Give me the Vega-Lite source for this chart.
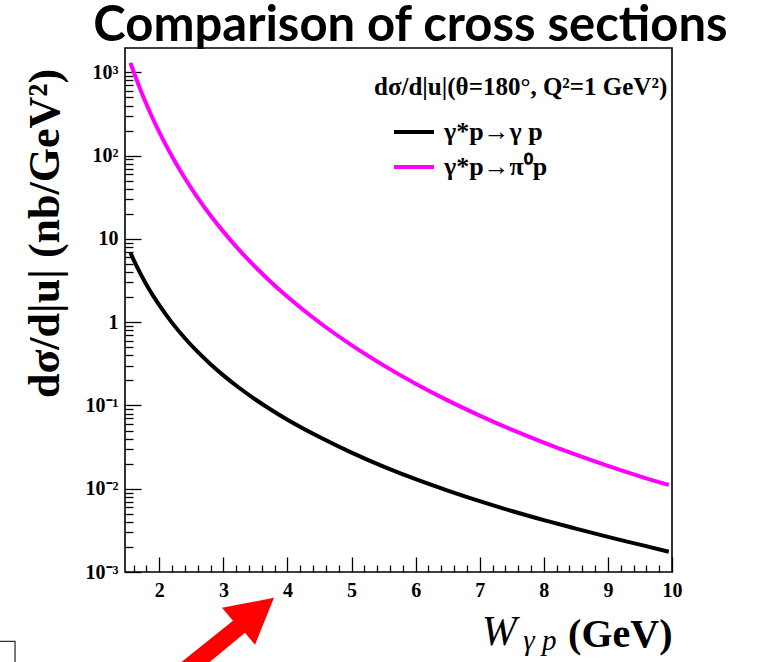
{
  "$schema": "https://vega.github.io/schema/vega-lite/v6.json",
  "width": 547,
  "height": 524,
  "autosize": {"type": "none"},
  "padding": {"left": 125, "top": 48, "right": 85, "bottom": 90},
  "background": "white",
  "title": {
    "text": "Comparison of cross sections",
    "font": "Lato, sans-serif",
    "fontSize": 49,
    "fontWeight": "bold",
    "color": "black",
    "anchor": "middle",
    "dx": 12,
    "dy": 50,
    "offset": 8,
    "baseline": "alphabetic"
  },
  "datasets": {
    "curves": [
      {"W": 1.55, "xs": 6.82, "process": "γ*p→γ p"},
      {"W": 1.6, "xs": 5.61, "process": "γ*p→γ p"},
      {"W": 1.7, "xs": 3.91, "process": "γ*p→γ p"},
      {"W": 1.8, "xs": 2.82, "process": "γ*p→γ p"},
      {"W": 1.9, "xs": 2.1, "process": "γ*p→γ p"},
      {"W": 2.0, "xs": 1.6, "process": "γ*p→γ p"},
      {"W": 2.2, "xs": 0.981, "process": "γ*p→γ p"},
      {"W": 2.4, "xs": 0.641, "process": "γ*p→γ p"},
      {"W": 2.6, "xs": 0.439, "process": "γ*p→γ p"},
      {"W": 2.8, "xs": 0.313, "process": "γ*p→γ p"},
      {"W": 3.0, "xs": 0.23, "process": "γ*p→γ p"},
      {"W": 3.25, "xs": 0.162, "process": "γ*p→γ p"},
      {"W": 3.5, "xs": 0.118, "process": "γ*p→γ p"},
      {"W": 3.75, "xs": 0.0882, "process": "γ*p→γ p"},
      {"W": 4.0, "xs": 0.0674, "process": "γ*p→γ p"},
      {"W": 4.5, "xs": 0.0417, "process": "γ*p→γ p"},
      {"W": 5.0, "xs": 0.0271, "process": "γ*p→γ p"},
      {"W": 5.5, "xs": 0.0184, "process": "γ*p→γ p"},
      {"W": 6.0, "xs": 0.013, "process": "γ*p→γ p"},
      {"W": 6.5, "xs": 0.0095, "process": "γ*p→γ p"},
      {"W": 7.0, "xs": 0.0071, "process": "γ*p→γ p"},
      {"W": 7.5, "xs": 0.0054, "process": "γ*p→γ p"},
      {"W": 8.0, "xs": 0.0042, "process": "γ*p→γ p"},
      {"W": 8.5, "xs": 0.00332, "process": "γ*p→γ p"},
      {"W": 9.0, "xs": 0.00264, "process": "γ*p→γ p"},
      {"W": 9.5, "xs": 0.00213, "process": "γ*p→γ p"},
      {"W": 9.95, "xs": 0.00175, "process": "γ*p→γ p"},
      {"W": 1.55, "xs": 1302, "process": "γ*p→π⁰p"},
      {"W": 1.6, "xs": 1015, "process": "γ*p→π⁰p"},
      {"W": 1.7, "xs": 637, "process": "γ*p→π⁰p"},
      {"W": 1.8, "xs": 413.5, "process": "γ*p→π⁰p"},
      {"W": 1.9, "xs": 277.5, "process": "γ*p→π⁰p"},
      {"W": 2.0, "xs": 191.5, "process": "γ*p→π⁰p"},
      {"W": 2.2, "xs": 97.5, "process": "γ*p→π⁰p"},
      {"W": 2.4, "xs": 53.5, "process": "γ*p→π⁰p"},
      {"W": 2.6, "xs": 31.2, "process": "γ*p→π⁰p"},
      {"W": 2.8, "xs": 19.1, "process": "γ*p→π⁰p"},
      {"W": 3.0, "xs": 12.24, "process": "γ*p→π⁰p"},
      {"W": 3.25, "xs": 7.33, "process": "γ*p→π⁰p"},
      {"W": 3.5, "xs": 4.6, "process": "γ*p→π⁰p"},
      {"W": 3.75, "xs": 3.0, "process": "γ*p→π⁰p"},
      {"W": 4.0, "xs": 2.02, "process": "γ*p→π⁰p"},
      {"W": 4.5, "xs": 0.991, "process": "γ*p→π⁰p"},
      {"W": 5.0, "xs": 0.53, "process": "γ*p→π⁰p"},
      {"W": 5.5, "xs": 0.303, "process": "γ*p→π⁰p"},
      {"W": 6.0, "xs": 0.1825, "process": "γ*p→π⁰p"},
      {"W": 6.5, "xs": 0.1151, "process": "γ*p→π⁰p"},
      {"W": 7.0, "xs": 0.0756, "process": "γ*p→π⁰p"},
      {"W": 7.5, "xs": 0.0512, "process": "γ*p→π⁰p"},
      {"W": 8.0, "xs": 0.0358, "process": "γ*p→π⁰p"},
      {"W": 8.5, "xs": 0.0256, "process": "γ*p→π⁰p"},
      {"W": 9.0, "xs": 0.0188, "process": "γ*p→π⁰p"},
      {"W": 9.5, "xs": 0.0141, "process": "γ*p→π⁰p"},
      {"W": 9.95, "xs": 0.0111, "process": "γ*p→π⁰p"}
    ]
  },
  "config": {
    "view": {"stroke": "black", "strokeWidth": 1.6},
    "axis": {
      "domain": false,
      "grid": false,
      "tickColor": "black",
      "tickWidth": 1.3,
      "labelColor": "black",
      "labelFont": "Liberation Serif",
      "labelFontWeight": "bold",
      "labelFontSize": 20,
      "titleColor": "black",
      "titleFont": "Liberation Serif",
      "titleFontWeight": "bold"
    }
  },
  "layer": [
    {
      "data": {"values": [{}]},
      "mark": {"type": "point", "shape": "square", "size": 900, "filled": false, "stroke": "#333333", "strokeWidth": 1.3, "opacity": 1},
      "encoding": {
        "x": {"datum": -0.485, "type": "quantitative"},
        "y": {"datum": 0.000097, "type": "quantitative"}
      }
    },
    {
      "data": {"values": [{}]},
      "mark": {
        "type": "point",
        "shape": "M0,0 L-52,10 L-41,23 L-116,83 L-104,97 L-29,35 L-19,47 Z",
        "size": 4,
        "filled": true,
        "color": "#ff0000",
        "opacity": 1
      },
      "encoding": {
        "x": {"datum": 3.79, "type": "quantitative"},
        "y": {"datum": 0.00049, "type": "quantitative"}
      }
    },
    {
      "data": {"name": "curves"},
      "mark": {"type": "line", "strokeWidth": 4, "interpolate": "monotone"},
      "encoding": {
        "x": {
          "field": "W",
          "type": "quantitative",
          "scale": {"domain": [1.465, 10], "nice": false, "zero": false},
          "axis": {
            "values": [1.6, 1.8, 2, 2.2, 2.4, 2.6, 2.8, 3, 3.2, 3.4, 3.6, 3.8, 4, 4.2, 4.4, 4.6, 4.8, 5, 5.2, 5.4, 5.6, 5.8, 6, 6.2, 6.4, 6.6, 6.8, 7, 7.2, 7.4, 7.6, 7.8, 8, 8.2, 8.4, 8.6, 8.8, 9, 9.2, 9.4, 9.6, 9.8, 10],
            "tickCount": 200,
            "labelExpr": "datum.value == round(datum.value) ? '' + datum.value : ''",
            "tickSize": {"condition": {"test": "datum.value == round(datum.value)", "value": -15}, "value": -7},
            "labelPadding": 23,
            "labelFlush": false,
            "labelOverlap": false,
            "title": "(GeV)",
            "titleFontSize": 40,
            "titleX": 547,
            "titleY": 74,
            "titleAlign": "right",
            "titleBaseline": "alphabetic"
          }
        },
        "y": {
          "field": "xs",
          "type": "quantitative",
          "scale": {"type": "log", "domain": [0.001, 1963], "nice": false},
          "axis": {
            "values": [0.001, 0.002, 0.003, 0.004, 0.005, 0.006, 0.007, 0.008, 0.009, 0.01, 0.02, 0.03, 0.04, 0.05, 0.06, 0.07, 0.08, 0.09, 0.1, 0.2, 0.3, 0.4, 0.5, 0.6, 0.7, 0.8, 0.9, 1, 2, 3, 4, 5, 6, 7, 8, 9, 10, 20, 30, 40, 50, 60, 70, 80, 90, 100, 200, 300, 400, 500, 600, 700, 800, 900, 1000],
            "tickCount": 200,
            "labelExpr": "datum.value == 1000 ? '10³' : datum.value == 100 ? '10²' : datum.value == 10 ? '10' : datum.value == 1 ? '1' : datum.value == 0.1 ? '10⁻¹' : datum.value == 0.01 ? '10⁻²' : datum.value == 0.001 ? '10⁻³' : ''",
            "tickSize": {"condition": {"test": "indexof([0.001, 0.01, 0.1, 1, 10, 100, 1000], datum.value) >= 0", "value": -16}, "value": -8},
            "labelPadding": 23,
            "labelFlush": false,
            "labelOverlap": false,
            "labelBaseline": "middle",
            "title": "dσ/d|u| (nb/GeV²)",
            "titleFontSize": 44,
            "titleAngle": -90,
            "titleX": -80,
            "titleY": 185,
            "titleAlign": "center",
            "titleBaseline": "middle"
          }
        },
        "color": {
          "field": "process",
          "type": "nominal",
          "scale": {"domain": ["γ*p→γ p", "γ*p→π⁰p"], "range": ["#000000", "#ff00ff"]},
          "legend": {
            "orient": "none",
            "legendX": 249,
            "legendY": 27,
            "title": "dσ/d|u|(θ=180°, Q²=1 GeV²)",
            "titleFont": "Liberation Serif",
            "titleFontSize": 25,
            "titleFontWeight": "bold",
            "titleColor": "black",
            "titleLimit": 400,
            "titlePadding": 10,
            "labelFont": "Liberation Serif",
            "labelFontSize": 26,
            "labelFontWeight": "bold",
            "labelColor": "black",
            "labelLimit": 300,
            "labelOffset": 8,
            "symbolType": "stroke",
            "symbolStrokeWidth": 4,
            "symbolSize": 1600,
            "symbolOffset": 18,
            "rowPadding": -13,
            "padding": 0
          }
        }
      }
    },
    {
      "data": {"values": [{}]},
      "mark": {"type": "text", "text": "W", "font": "Liberation Serif", "fontStyle": "italic", "fontSize": 42, "align": "left", "baseline": "alphabetic", "color": "black"},
      "encoding": {
        "x": {"datum": 7.03, "type": "quantitative"},
        "y": {"datum": 0.000134, "type": "quantitative"}
      }
    },
    {
      "data": {"values": [{}]},
      "mark": {"type": "text", "text": "γ p", "font": "Liberation Serif", "fontStyle": "italic", "fontSize": 29, "align": "left", "baseline": "alphabetic", "color": "black"},
      "encoding": {
        "x": {"datum": 7.68, "type": "quantitative"},
        "y": {"datum": 0.000117, "type": "quantitative"}
      }
    }
  ]
}
